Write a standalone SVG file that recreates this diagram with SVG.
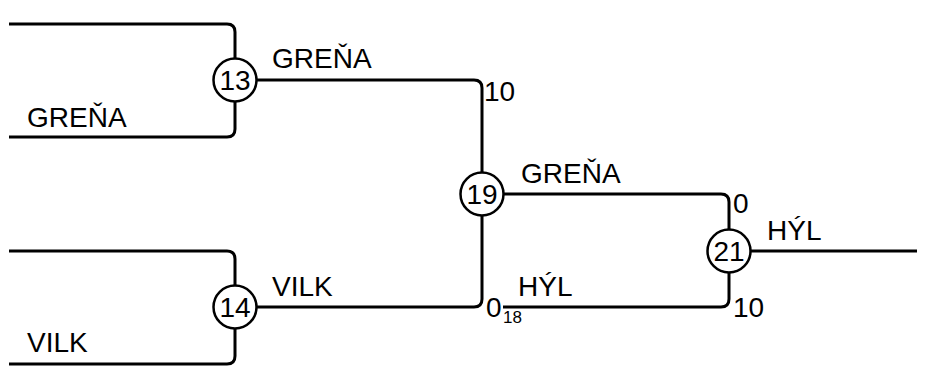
<svg xmlns="http://www.w3.org/2000/svg" width="933" height="368" viewBox="0 0 933 368">
<style>
.ln{fill:none;stroke:#000;stroke-width:3;stroke-linejoin:round}
.nd circle{fill:#fff;stroke:#000;stroke-width:2.5}
text{font-family:"Liberation Sans",Arial,sans-serif;font-size:28px;fill:#000}
.nd text{text-anchor:middle}
.sm{font-size:17px}
</style>
<rect width="933" height="368" fill="#fff"/>
<g id="connectors">
<path class="ln" d="M9,24 H227 Q235,24 235,32 V129 Q235,137 227,137 H9"/>
<path class="ln" d="M9,251 H227 Q235,251 235,259 V356 Q235,364 227,364 H9"/>
<path class="ln" d="M257,80 H474 Q482,80 482,88 V299 Q482,307 474,307 H257"/>
<path class="ln" d="M504,194 H721 Q729,194 729,202 V299 Q729,307 721,307 H503"/>
<path class="ln" d="M751,251 H917"/>
</g>
<g id="labels">
<text x="272" y="68">GREŇA</text>
<text x="27" y="127">GREŇA</text>
<text x="484" y="101">10</text>
<text x="272" y="296">VILK</text>
<text x="27" y="352">VILK</text>
<text x="486" y="317">0</text>
<text class="sm" x="503" y="323">18</text>
<text x="521" y="183">GREŇA</text>
<text x="518" y="296">HÝL</text>
<text x="733" y="213">0</text>
<text x="733" y="317">10</text>
<text x="767" y="240">HÝL</text>
</g>
<g id="node-13" class="nd"><circle cx="235" cy="80" r="21.5"/><text x="235" y="90">13</text></g>
<g id="node-14" class="nd"><circle cx="235" cy="307" r="21.5"/><text x="235" y="317">14</text></g>
<g id="node-19" class="nd"><circle cx="482" cy="194" r="21.5"/><text x="482" y="204">19</text></g>
<g id="node-21" class="nd"><circle cx="729" cy="251" r="21.5"/><text x="729" y="261">21</text></g>
</svg>
